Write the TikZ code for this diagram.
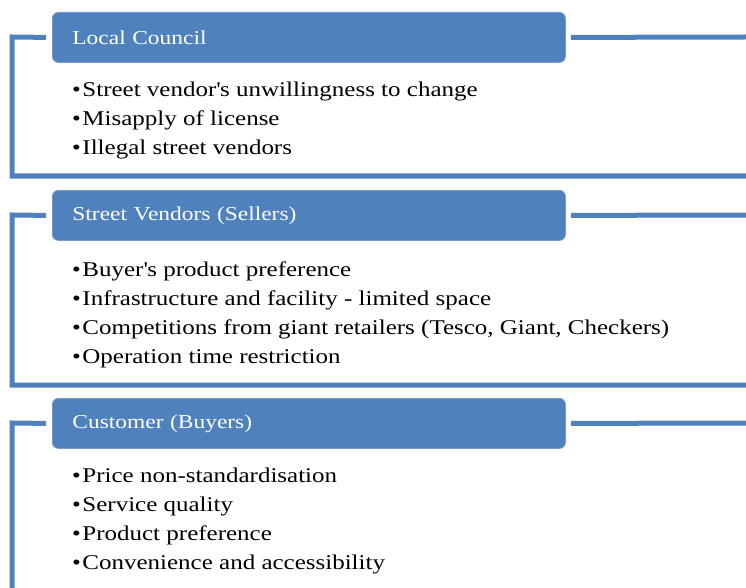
\documentclass[tikz,border=0pt]{standalone}
\usepackage{fontspec}
\setmainfont[FakeStretch=1.19]{Liberation Serif}
\definecolor{barblue}{HTML}{4F81BD}
\newcommand{\q}{\textquotesingle}
\newcommand{\bul}{\textbullet\hspace{1.5pt}}
\begin{document}
\begin{tikzpicture}[x=1pt,y=-1pt,
  header/.style={draw=barblue!80!white, line width=0.8pt, fill=barblue, rounded corners=6pt,
    anchor=north west, minimum width=513pt, minimum height=50pt, text width=473pt,
    inner xsep=20pt, align=left, text=white, font=\fontsize{19.7}{22}\selectfont},
  frame/.style={draw=barblue, line width=5pt},
  item/.style={anchor=base west, inner sep=0pt, font=\fontsize{21}{24}\selectfont}]
\useasboundingbox (0,0) rectangle (746,588);

% Local Council
\node[header] (h1) at (52,12) {Local Council};
\draw[frame] ([xshift=-6pt]h1.west) -- (12,37) -- (12,176) -- (746,176);
\draw[frame] ([xshift=5pt]h1.east) -- (746,37);
\node[item] (a1) at (72,97) {\bul Street vendor\q s unwillingness to change};
\node[item] (a2) at (72,126) {\bul Misapply of license};
\node[item] (a3) at (72,155) {\bul Illegal street vendors};

% Street Vendors
\node[header] (h2) at (52,190) {Street Vendors (Sellers)};
\draw[frame] ([xshift=-6pt]h2.west) -- (12,215) -- (12,385) -- (746,385);
\draw[frame] ([xshift=5pt]h2.east) -- (746,215);
\node[item] (b1) at (72,276) {\bul Buyer\q s product preference};
\node[item] (b2) at (72,305) {\bul Infrastructure and facility - limited space};
\node[item] (b3) at (72,334) {\bul Competitions from giant retailers (Tesco, Giant, Checkers)};
\node[item] (b4) at (72,363) {\bul Operation time restriction};

% Customer
\node[header] (h3) at (52,398) {Customer (Buyers)};
\draw[frame] ([xshift=-6pt]h3.west) -- (12,423) -- (12,588);
\draw[frame] ([xshift=5pt]h3.east) -- (746,423);
\node[item] (c1) at (72,482) {\bul Price non-standardisation};
\node[item] (c2) at (72,511) {\bul Service quality};
\node[item] (c3) at (72,540) {\bul Product preference};
\node[item] (c4) at (72,569) {\bul Convenience and accessibility};
\end{tikzpicture}
\end{document}
